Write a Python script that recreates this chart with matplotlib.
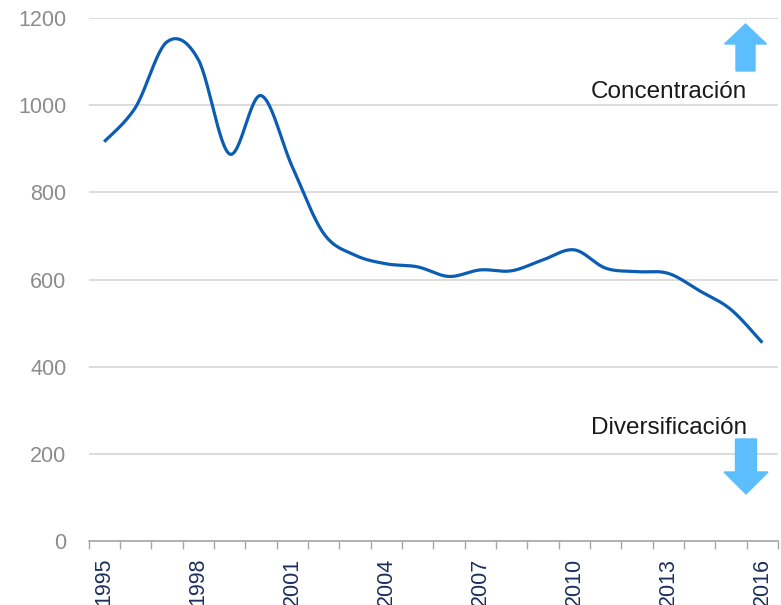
import numpy as np
import matplotlib.pyplot as plt
from matplotlib.patches import Polygon
from matplotlib.transforms import IdentityTransform

years = list(range(1995, 2017))
values = [916, 995, 1145, 1105, 888, 1022, 859, 706, 656, 636, 629,
          607, 622, 620, 645, 668, 626, 618, 614, 574, 531, 455]
shown_years = [1995, 1998, 2001, 2004, 2007, 2010, 2013, 2016]
y_ticks = [0, 200, 400, 600, 800, 1000, 1200]


def smooth(xs, ys, steps=30):
    # bezier smoothing like the spreadsheet "smoothed line" option
    pts = np.column_stack([xs, ys]).astype(float)
    pts = np.vstack([pts[0], pts, pts[-1]])
    out = []
    for i in range(1, len(pts) - 2):
        p0, p1, p2, p3 = pts[i - 1], pts[i], pts[i + 1], pts[i + 2]
        c1 = p1 + (p2 - p0) / 6
        c2 = p2 - (p3 - p1) / 6
        t = np.linspace(0, 1, steps)[:, None]
        seg = ((1 - t) ** 3) * p1 + 3 * ((1 - t) ** 2) * t * c1 + 3 * (1 - t) * t ** 2 * c2 + t ** 3 * p2
        out.append(seg)
    out = np.vstack(out)
    return out[:, 0], out[:, 1]


plt.rcParams['font.family'] = ['Liberation Sans', 'DejaVu Sans']

W, H = 781, 605
fig = plt.figure(figsize=(W / 100, H / 100), dpi=100)
ax = fig.add_axes([88.5 / W, 1 - 541 / H, (778 - 88.5) / W, (541 - 18) / H])

idx = np.arange(len(years))
sx, sy = smooth(idx, values)
ax.plot(sx, sy, color='#0B5DB4', lw=2.3, solid_capstyle='butt', zorder=3)

ax.set_xlim(-0.5, len(years) - 0.5)
ax.set_ylim(0, 1200)
ax.set_yticks(y_ticks)
ax.yaxis.grid(True, color='#D9D9D9', lw=1.3)
ax.set_axisbelow(True)
ax.tick_params(axis='y', length=0, pad=16, labelsize=15.5, labelcolor='#8C8C8C')

ax.set_xticks([years.index(y) for y in shown_years])
ax.set_xticklabels([str(y) for y in shown_years], rotation=90)
ax.set_xticks(np.arange(-0.5, len(years)), minor=True)
ax.tick_params(axis='x', which='major', length=0, pad=12, labelsize=15.5, labelcolor='#1B2F5B')
ax.tick_params(axis='x', which='minor', length=6, width=1, color='#A6A6A6')

for s in ['top', 'right', 'left']:
    ax.spines[s].set_visible(False)
ax.spines['bottom'].set_color('#A6A6A6')
ax.spines['bottom'].set_linewidth(1.2)

# arrows and labels, in pixel positions
arrow_col = '#5CBEFD'


def arrow(cx, tip, head_base, tail, head_half, shaft_half):
    pts = [(cx, tip), (cx + head_half, head_base), (cx + shaft_half, head_base),
           (cx + shaft_half, tail), (cx - shaft_half, tail), (cx - shaft_half, head_base),
           (cx - head_half, head_base)]
    pts = [(x, H - y) for x, y in pts]
    fig.patches.append(Polygon(pts, closed=True, color=arrow_col, transform=IdentityTransform(),
                               figure=fig, zorder=5))


arrow(745.5, 24, 44, 71, 21, 9.5)
arrow(746, 494, 472, 439, 22, 10.5)

fig.text(747 / W, 1 - 98 / H, 'Concentración', fontsize=17.5, color='#1A1A1A', ha='right', va='baseline')
fig.text(747 / W, 1 - 434 / H, 'Diversificación', fontsize=17.5, color='#1A1A1A', ha='right', va='baseline')

fig.savefig('out.png', dpi=100)
